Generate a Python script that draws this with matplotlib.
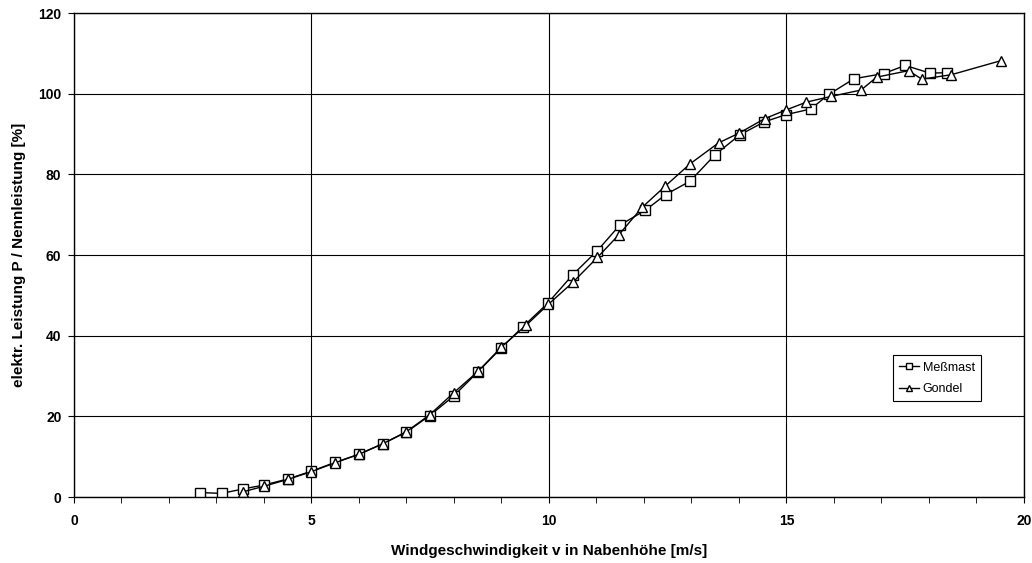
import matplotlib
matplotlib.use("Agg")
import matplotlib.pyplot as plt
from matplotlib.ticker import MultipleLocator

plt.rcParams['font.family'] = ['Liberation Sans', 'DejaVu Sans']

# Meßmast (squares)
v_mast = [2.65, 3.11, 3.56, 4.01, 4.51, 5.0, 5.5, 6.0, 6.5, 7.0, 7.49, 7.99,
          8.51, 9.0, 9.45, 9.97, 10.5, 11.02, 11.49, 12.03, 12.46, 12.97,
          13.5, 14.02, 14.53, 14.99, 15.51, 15.89, 16.42, 17.05, 17.5,
          18.02, 18.37]
p_mast = [1.1, 0.9, 2.0, 3.0, 4.5, 6.4, 8.6, 10.6, 13.2, 16.1, 20.2, 25.0,
          31.1, 37.0, 42.2, 48.0, 55.1, 61.1, 67.4, 71.1, 75.0, 78.3,
          84.9, 89.8, 93.0, 94.8, 96.2, 99.8, 103.7, 105.0, 107.0,
          105.1, 105.2]

# Gondel (triangles)
v_gondel = [3.56, 4.01, 4.51, 5.0, 5.5, 6.0, 6.5, 7.0, 7.49, 7.99, 8.51,
            9.0, 9.52, 9.99, 10.5, 11.02, 11.47, 11.96, 12.45, 12.97,
            13.57, 14.0, 14.54, 15.0, 15.42, 15.93, 16.57, 16.9, 17.57,
            17.85, 18.47, 19.52]
p_gondel = [1.3, 2.7, 4.4, 6.3, 8.5, 10.6, 13.2, 16.2, 20.4, 25.8, 31.2,
            37.2, 42.6, 47.8, 53.2, 59.4, 65.0, 71.8, 77.1, 82.6,
            87.8, 90.2, 93.8, 96.0, 97.9, 99.3, 100.9, 104.1, 105.7,
            103.6, 104.7, 108.2]

fig = plt.figure(figsize=(10.32, 5.63), dpi=100)
ax = fig.add_axes([0.0717, 0.1172, 0.9205, 0.8597])

ax.plot(v_mast, p_mast, color='black', lw=1, marker='s', markersize=6.5,
        markerfacecolor='white', markeredgecolor='black', markeredgewidth=1,
        label='Meßmast')
ax.plot(v_gondel, p_gondel, color='black', lw=1, marker='^', markersize=6.5,
        markerfacecolor='white', markeredgecolor='black', markeredgewidth=1,
        label='Gondel')

ax.set_xlim(0, 20)
ax.set_ylim(0, 120)
ax.xaxis.set_major_locator(MultipleLocator(5))
ax.xaxis.set_minor_locator(MultipleLocator(1))
ax.yaxis.set_major_locator(MultipleLocator(20))
ax.grid(True, which='major', color='black', lw=0.8)
ax.set_axisbelow(True)
ax.tick_params(which='both', direction='out', color='black')
ax.tick_params(which='major', length=4, labelsize=10)
ax.tick_params(which='minor', length=4)
ax.tick_params(axis='x', pad=8)
ax.tick_params(axis='y', pad=5)
for lab in ax.get_xticklabels() + ax.get_yticklabels():
    lab.set_fontweight('bold')
for s in ax.spines.values():
    s.set_color('black')
    s.set_linewidth(1)

ax.set_xlabel('Windgeschwindigkeit v in Nabenhöhe [m/s]', fontsize=11,
              fontweight='bold', labelpad=12)
ax.set_ylabel('elektr. Leistung P / Nennleistung [%]', fontsize=11,
              fontweight='bold', labelpad=9)

leg = ax.legend(loc='lower right', bbox_to_anchor=(0.955, 0.198), fontsize=9,
                frameon=True, fancybox=False, framealpha=1, edgecolor='black',
                handlelength=1.6, handletextpad=0.3, borderpad=0.5,
                labelspacing=0.75, markerscale=0.7, borderaxespad=0)
leg.get_frame().set_linewidth(0.8)

fig.savefig('out.png', dpi=100)
